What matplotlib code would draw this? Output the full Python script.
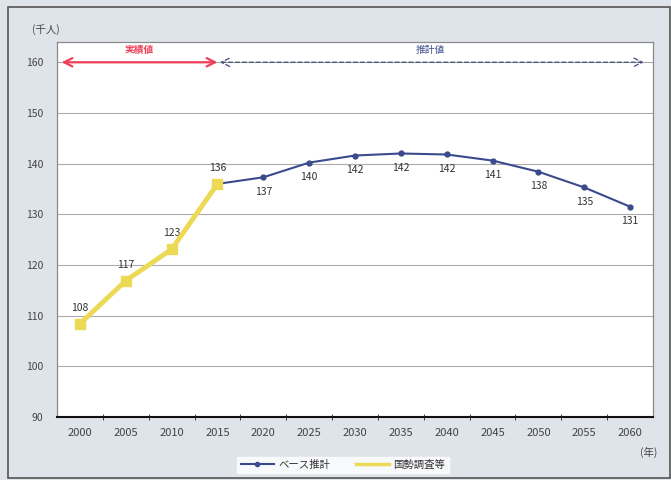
import matplotlib
matplotlib.use("Agg")
import matplotlib.pyplot as plt
from matplotlib.patches import Rectangle
from matplotlib.lines import Line2D

plt.rcParams['font.family'] = ['Noto Sans CJK JP', 'DejaVu Sans']

years = ['2000', '2005', '2010', '2015', '2020', '2025', '2030', '2035',
         '2040', '2045', '2050', '2055', '2060']
census_years = ['2000', '2005', '2010', '2015']
census_vals = [108.4, 116.9, 123.1, 136.0]
census_labels = ['108', '117', '123', '136']
base_years = ['2015', '2020', '2025', '2030', '2035', '2040', '2045', '2050', '2055', '2060']
base_vals = [136.0, 137.3, 140.2, 141.6, 142.0, 141.8, 140.6, 138.4, 135.3, 131.5]
base_labels = ['', '137', '140', '142', '142', '142', '141', '138', '135', '131']
yticks = [90, 100, 110, 120, 130, 140, 150, 160]

fig = plt.figure(figsize=(6.71, 4.8), dpi=100)
fig.patch.set_facecolor('#dfe3ea')
fig.patches.append(Rectangle((8/671, 2/480), 662/671, 471/480, transform=fig.transFigure,
                             fill=False, edgecolor='#555555', lw=1.2))

ax = fig.add_axes([57/671, 63/480, 596/671, 375/480])
ax.set_facecolor('white')
idx = {y: i for i, y in enumerate(years)}
cx = [idx[y] for y in census_years]
bx = [idx[y] for y in base_years]

ax.set_xlim(-0.5, len(years) - 0.5)
ax.set_ylim(90, 164)
for v in yticks[1:]:
    ax.axhline(v, color='#ababab', lw=0.8, zorder=1)

ax.plot(bx, base_vals, color='#3b4a8c', lw=1.5, marker='o', ms=3.5, zorder=3)
ax.plot(cx, census_vals, color='#ecd955', lw=3.5, marker='s', ms=7.5, zorder=4)

for x, v, t in zip(cx, census_vals, census_labels):
    ax.annotate(t, (x, v), xytext=(0, 8), textcoords='offset points', ha='center',
                va='bottom', fontsize=7.5, color='#333333')
for x, v, t in zip(bx, base_vals, base_labels):
    if t:
        ax.annotate(t, (x, v), xytext=(0, -7), textcoords='offset points', ha='center',
                    va='top', fontsize=7.5, color='#333333')

# arrows
ax.annotate('', xy=(-0.4, 160), xytext=(3.0, 160),
            arrowprops=dict(arrowstyle='<->', color='#ee4058', lw=1.6, mutation_scale=15,
                            shrinkA=0, shrinkB=0), zorder=5)
ax.annotate('', xy=(3.05, 160), xytext=(12.3, 160),
            arrowprops=dict(arrowstyle='<->', color='#4f5a80', lw=1.0, ls=(0, (3, 2)),
                            mutation_scale=15, shrinkA=0, shrinkB=0), zorder=5)
ax.text(1.3, 161.5, '実績値', color='#ee4058', fontsize=7, fontweight='bold',
        ha='center', va='bottom')
ax.text(7.65, 161.5, '推計値', color='#3b4a8c', fontsize=7, ha='center', va='bottom')

ax.set_yticks(yticks)
ax.set_yticklabels([str(v) for v in yticks], fontsize=7.5, color='#444444')
ax.set_xticks(range(len(years)))
ax.set_xticklabels(years, fontsize=8, color='#444444')
ax.set_xticks([i + 0.5 for i in range(len(years) - 1)], minor=True)
ax.tick_params(axis='x', which='major', length=0, pad=8)
ax.tick_params(axis='x', which='minor', length=5, direction='inout', color='#222222')
ax.tick_params(axis='y', length=0, pad=10)

for s in ['left', 'top', 'right']:
    ax.spines[s].set_color('#8a8a8a')
    ax.spines[s].set_linewidth(0.9)
ax.spines['bottom'].set_color('#111111')
ax.spines['bottom'].set_linewidth(1.5)

fig.text(32/671, 1 - 30/480, '(千人)', fontsize=7.5, color='#444444', va='center')
fig.text(640/671, 1 - 452/480, '(年)', fontsize=7.5, color='#444444', va='center')

leg_handles = [Line2D([], [], color='#3b4a8c', lw=1.5, marker='o', ms=3),
               Line2D([], [], color='#ecd955', lw=2.5)]
leg = fig.legend(leg_handles, ['ベース推計', '国勢調査等'], loc='center',
                 bbox_to_anchor=(343/671, 1 - 465/480), ncol=2, fontsize=7.5,
                 frameon=True, fancybox=False, handlelength=3.2, columnspacing=2.5,
                 borderpad=0.3, handletextpad=0.4)
leg.get_frame().set_edgecolor('white')
leg.get_frame().set_facecolor('white')
for t in leg.get_texts():
    t.set_color('#333333')

fig.savefig('out.png', dpi=100, facecolor=fig.get_facecolor())
